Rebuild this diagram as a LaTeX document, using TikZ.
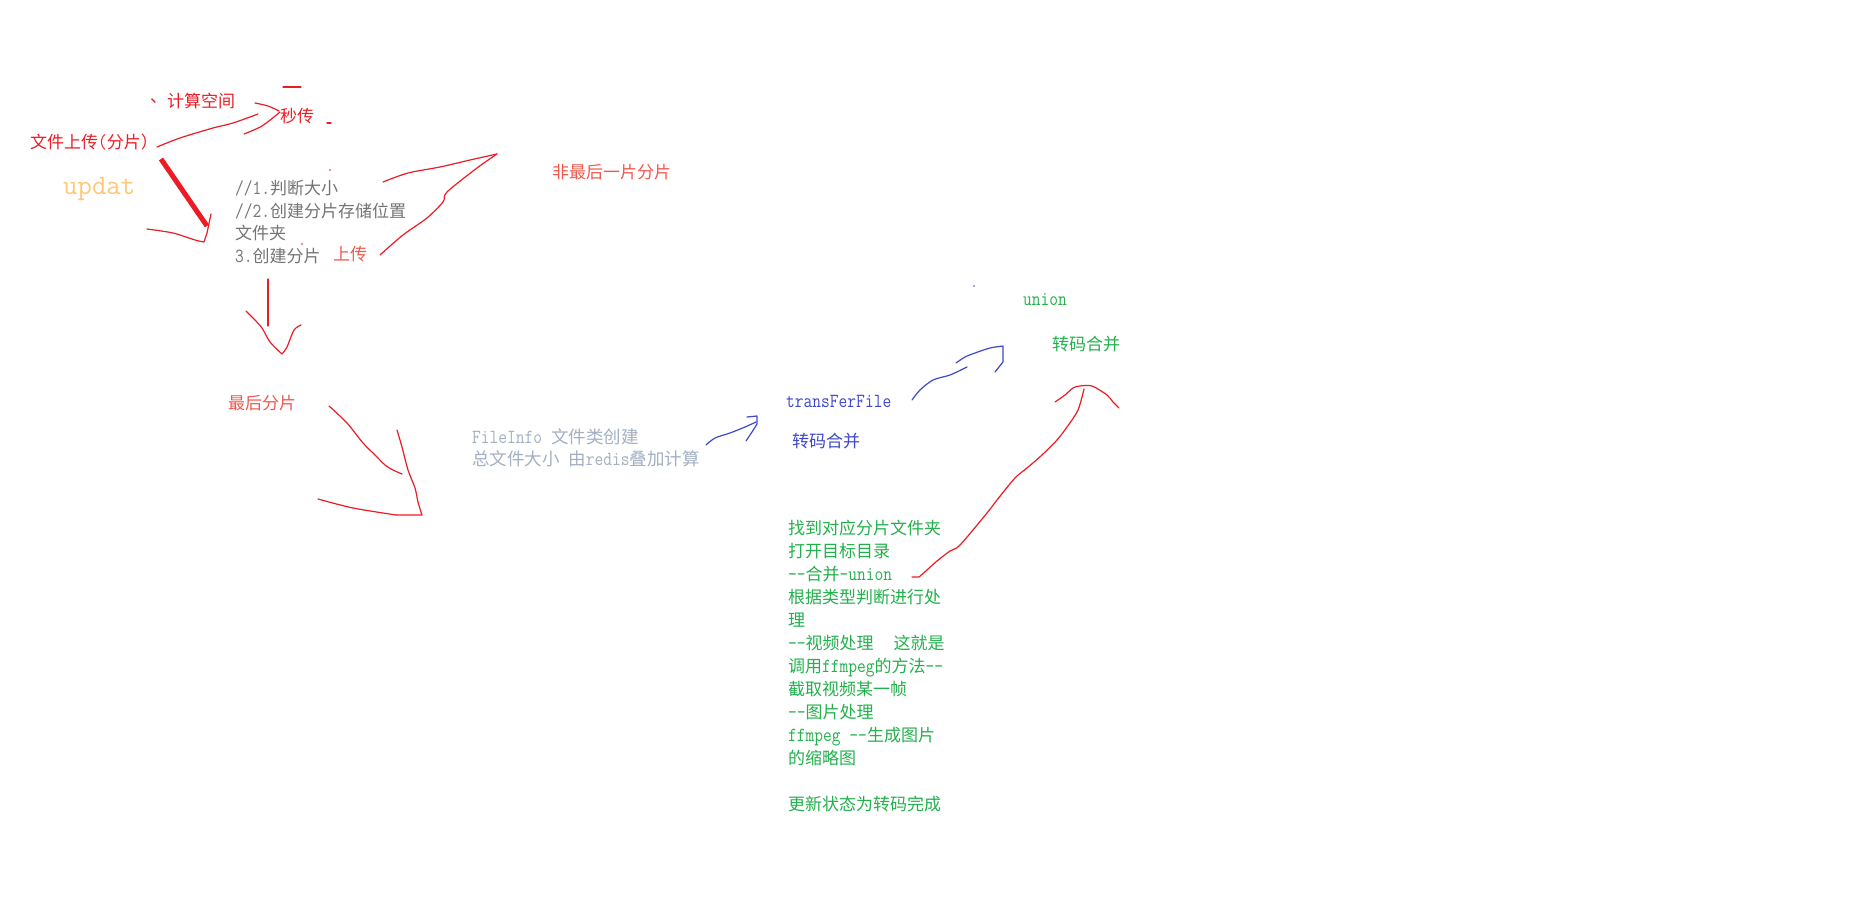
\documentclass[tikz,border=0pt]{standalone}
\usepackage{graphicx}
\usepackage{fontspec}
\newfontfamily\cjkf{Noto Sans CJK SC}
\newcommand\la[1]{\scalebox{0.85}[1]{\ttfamily\fontsize{20}{23}\selectfont #1}}
\definecolor{pred}{HTML}{ED1C24}
\definecolor{tred}{HTML}{F0584C}
\definecolor{pblue}{HTML}{3F48CC}
\definecolor{pgreen}{HTML}{22B14C}
\definecolor{pgray}{HTML}{747474}
\definecolor{pslate}{HTML}{A3B0C2}
\definecolor{porange}{HTML}{FFC878}
\begin{document}
\begin{tikzpicture}[x=1pt,y=-1pt,
  txt/.style={anchor=base west, inner sep=0pt, font=\cjkf\fontsize{17}{23}\selectfont},
  pen/.style={line width=1.2pt, line cap=round, line join=round},
  redpen/.style={pen, draw=pred},
  bluepen/.style={pen, draw=pblue}]
\useasboundingbox[fill=white] (0,0) rectangle (1861,920);

% ---- texts
\node[txt, text=pred] (upload) at (30,149) {文件上传\la{(}分片）};
\node[txt, text=pred] (calc) at (150,108) {\raisebox{5pt}{、}计算空间};
\node[txt, text=pred] (sec) at (280,123) {秒传};
\node[txt, text=porange, font=\ttfamily\fontsize{28}{30}\selectfont] (updat) at (63,195) {updat};
\foreach \t [count=\i] in {{\la{//1.}判断大小},{\la{//2.}创建分片存储位置},{文件夹},{\la{3.}创建分片}}
  \node[txt, text=pgray] (s\i) at (235,195+22.5*\i-22.5) {\t};
\node[txt, text=tred] (up2) at (333,261) {上传};
\node[txt, text=tred] (notlast) at (552,179) {非最后一片分片};
\node[txt, text=tred] (last) at (228,409) {最后分片};
\node[txt, text=pslate, font=\cjkf\fontsize{17.5}{23}\selectfont] (fi1) at (472,443) {\la{FileInfo\ }文件类创建};
\node[txt, text=pslate, font=\cjkf\fontsize{17.5}{23}\selectfont] (fi2) at (472,465) {总文件大小\la{\ }由\la{redis}叠加计算};
\node[txt, text=pblue] (tf) at (786,407) {\la{transFerFile}};
\node[txt, text=pblue] (zm1) at (792,447) {转码合并};
\node[txt, text=pgreen] (un) at (1023,305) {\la{union}};
\node[txt, text=pgreen] (zm2) at (1052,350) {转码合并};
\foreach \t [count=\i] in {{找到对应分片文件夹},{打开目标目录},{\la{--}合并\la{-union}},{根据类型判断进行处},{理},{\la{--}视频处理\hspace*{20pt}这就是},{调用\la{ffmpeg}的方法\la{--}},{截取视频某一帧},{\la{--}图片处理},{\la{ffmpeg --}生成图片},{的缩略图}}
  \node[txt, text=pgreen] (g\i) at (788,534+23*\i-23) {\t};
\node[txt, text=pgreen] (g13) at (788,810) {更新状态为转码完成};

% ---- red strokes near top-left
\draw[redpen] plot[smooth] coordinates {(157,147) (180,138) (213,128) (233,123) (258,114)};
\draw[redpen] plot[smooth] coordinates {(255,103) (268,106) (279,111)};
\draw[redpen] plot[smooth] coordinates {(244,134) (262,126) (280,112)};
\draw[redpen] (283,87) -- (301,87);
\draw[redpen] (327,123) -- (331,123);
\draw[draw=pred, line width=5pt] (161,159) -- (207,226);
\draw[redpen] plot[smooth] coordinates {(147,229) (173,233) (195,240) (204,242)} -- (207,233) -- (211,214);
\fill[pred] (330,170) circle (0.8);
\fill[pred] (302,244) circle (0.8);

% ---- to "non-last chunk"
\draw[redpen] plot[smooth] coordinates {(383,182) (408,173) (440,167) (470,160) (497,154)};
\draw[redpen] plot[smooth] coordinates {(497,154) (477,168) (447,192) (443,202) (427,218) (403,235) (380,255)};

% ---- down arrow to "last chunk"
\draw[redpen] (268,279) -- (268,326);
\draw[redpen] plot[smooth] coordinates {(246,311) (254,319) (262,328) (270,342) (282,354)};
\draw[redpen] plot[smooth] coordinates {(282,354) (287,347) (294,330) (301,325)};

% ---- last chunk arrow
\draw[redpen] plot[smooth] coordinates {(329,406) (347,423) (363,443) (375,455) (385,465) (393,470) (402,474)};
\draw[redpen] plot[smooth] coordinates {(397,430) (402,447) (408,470) (415,488) (418,502) (422,515)} -- (396,515);
\draw[redpen] plot[smooth] coordinates {(396,515) (353,508) (318,499)};

% ---- blue arrows
\draw[bluepen] plot[smooth] coordinates {(706,445) (715,438) (730,433) (745,427) (756,422)};
\draw[bluepen] (747,417) -- (757,416) -- (757,424) -- (752,432) -- (746,441);
\draw[bluepen] plot[smooth] coordinates {(912,400) (920,390) (933,380) (950,375) (967,367)};
\draw[bluepen] plot[smooth] coordinates {(956,363) (965,357) (975,353) (990,348) (1003,346)} -- (1003,362) -- (995,372);
\fill[pblue] (974,286) circle (0.8);

% ---- big red arrow
\draw[redpen] plot[smooth] coordinates {(1055,402) (1065,395) (1073,388) (1080,386) (1092,386) (1107,395) (1113,402) (1119,408)};
\draw[redpen] plot[smooth] coordinates {(1084,389) (1078,410) (1067,427) (1057,440) (1042,455) (1027,468) (1015,478) (997,500) (987,513) (960,545) (950,551) (937,561) (927,570) (919,577)} -- (912,577);
\end{tikzpicture}
\end{document}
